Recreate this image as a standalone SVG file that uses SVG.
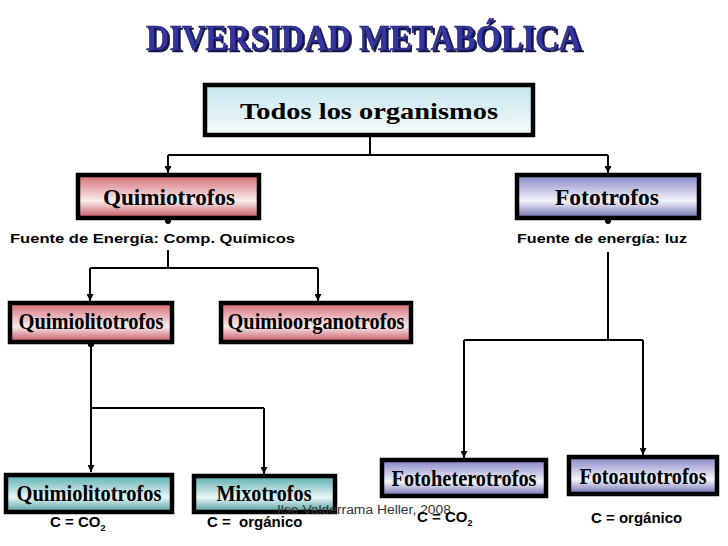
<svg xmlns="http://www.w3.org/2000/svg" width="728" height="546" viewBox="0 0 728 546">
<defs>
  <linearGradient id="gPink" x1="0" y1="0" x2="0" y2="1">
    <stop offset="0" stop-color="#d46a74"/>
    <stop offset="0.6" stop-color="#fbecec"/>
    <stop offset="1" stop-color="#c4535e"/>
  </linearGradient>
  <linearGradient id="gBlue" x1="0" y1="0" x2="0" y2="1">
    <stop offset="0" stop-color="#8484c6"/>
    <stop offset="0.6" stop-color="#f5f5fc"/>
    <stop offset="1" stop-color="#6c6cae"/>
  </linearGradient>
  <linearGradient id="gTeal" x1="0" y1="0" x2="0" y2="1">
    <stop offset="0" stop-color="#5aacae"/>
    <stop offset="0.6" stop-color="#e9f6f6"/>
    <stop offset="1" stop-color="#4f9ea0"/>
  </linearGradient>
  <linearGradient id="gTodos" x1="0" y1="0" x2="0" y2="1">
    <stop offset="0" stop-color="#c6e5ec"/>
    <stop offset="1" stop-color="#f6fbfc"/>
  </linearGradient>
  <filter id="shadow" x="-5%" y="-20%" width="110%" height="150%">
    <feOffset in="SourceAlpha" dx="2" dy="2" result="off"/>
    <feFlood flood-color="#15154a"/>
    <feComposite in2="off" operator="in" result="sh"/>
    <feMerge><feMergeNode in="sh"/><feMergeNode in="SourceGraphic"/></feMerge>
  </filter>
  <marker id="arr" viewBox="0 0 10 10" refX="10" refY="5" markerWidth="7" markerHeight="7" orient="auto" markerUnits="userSpaceOnUse">
    <path d="M0,0 L10,5 L0,10 z" fill="#000"/>
  </marker>
  <style>
    .box { stroke: #000; stroke-width: 4.5; }
    .lbl { font-family: "Liberation Serif", "Times New Roman", serif; font-weight: bold; font-size: 23px; fill: #000; text-anchor: middle; }
    .sans { font-family: "Liberation Sans", Arial, sans-serif; font-weight: bold; font-size: 13.5px; fill: #000; }
    .c { font-family: "Liberation Sans", Arial, sans-serif; font-weight: bold; font-size: 15px; fill: #000; }
    .line { stroke: #000; stroke-width: 2; fill: none; }
    .wm { font-family: "Liberation Sans", Arial, sans-serif; font-size: 12.5px; fill: #333; }
  </style>
</defs>
<rect width="728" height="546" fill="#fff"/>

<g id="title">
  <text x="364" y="50" font-family="Liberation Serif, Times New Roman, serif" font-weight="bold" font-size="35" text-anchor="middle" textLength="436" lengthAdjust="spacingAndGlyphs" fill="#3535a2" stroke="#1a1a60" stroke-width="0.6" filter="url(#shadow)">DIVERSIDAD METABÓLICA</text>
</g>

<g id="connectors">
  <path class="line" d="M370,135 V155 M168,155 H608"/>
  <path class="line" d="M168,155 V173" marker-end="url(#arr)"/>
  <path class="line" d="M608,155 V173" marker-end="url(#arr)"/>
  <circle cx="168" cy="221" r="3"/>
  <circle cx="608" cy="221" r="3"/>
  <path class="line" d="M168,250 V268 M90,268 H318"/>
  <path class="line" d="M90,268 V301" marker-end="url(#arr)"/>
  <path class="line" d="M318,268 V301" marker-end="url(#arr)"/>
  <path class="line" d="M608,252 V340 M464,340 H643"/>
  <path class="line" d="M464,340 V458" marker-end="url(#arr)"/>
  <path class="line" d="M643,340 V455" marker-end="url(#arr)"/>
  <circle cx="91" cy="344" r="3.2"/>
  <path class="line" d="M91,344 V472" marker-end="url(#arr)"/>
  <path class="line" d="M91,408 H264"/>
  <path class="line" d="M264,408 V474" marker-end="url(#arr)"/>
</g>

<g id="todos">
  <rect class="box" x="205" y="85" width="328" height="50" fill="url(#gTodos)"/>
  <text class="lbl" x="369" y="119" font-size="26" textLength="258" lengthAdjust="spacingAndGlyphs">Todos los organismos</text>
</g>

<g id="quimiotrofos">
  <rect class="box" x="78" y="175" width="181" height="43" fill="url(#gPink)"/>
  <text class="lbl" x="169" y="205" font-size="26" textLength="132" lengthAdjust="spacingAndGlyphs">Quimiotrofos</text>
</g>
<text class="sans" x="10" y="243" textLength="285" lengthAdjust="spacingAndGlyphs">Fuente de Energía: Comp. Químicos</text>

<g id="fototrofos">
  <rect class="box" x="517" y="175" width="182" height="43" fill="url(#gBlue)"/>
  <text class="lbl" x="607" y="205" font-size="26" textLength="104" lengthAdjust="spacingAndGlyphs">Fototrofos</text>
</g>
<text class="sans" x="517" y="243" textLength="170" lengthAdjust="spacingAndGlyphs">Fuente de energía: luz</text>

<g id="quimiolitotrofos1">
  <rect class="box" x="10" y="303" width="162" height="39" fill="url(#gPink)"/>
  <text class="lbl" x="91" y="329" textLength="145" lengthAdjust="spacingAndGlyphs">Quimiolitotrofos</text>
</g>

<g id="quimioorganotrofos">
  <rect class="box" x="221" y="303" width="190" height="39" fill="url(#gPink)"/>
  <text class="lbl" x="316" y="329" textLength="177" lengthAdjust="spacingAndGlyphs">Quimioorganotrofos</text>
</g>

<g id="quimiolitotrofos2">
  <rect class="box" x="6" y="475" width="166" height="37" fill="url(#gTeal)"/>
  <text class="lbl" x="89" y="501" textLength="145" lengthAdjust="spacingAndGlyphs">Quimiolitotrofos</text>
</g>

<g id="mixotrofos">
  <rect class="box" x="194" y="476" width="141" height="36" fill="url(#gTeal)"/>
  <text class="lbl" x="264" y="501" textLength="95" lengthAdjust="spacingAndGlyphs">Mixotrofos</text>
</g>

<g id="fotoheterotrofos">
  <rect class="box" x="382" y="460" width="164" height="36" fill="url(#gBlue)"/>
  <text class="lbl" x="464" y="486" font-size="21" textLength="145" lengthAdjust="spacingAndGlyphs">Fotoheterotrofos</text>
</g>

<g id="fotoautotrofos">
  <rect class="box" x="569" y="457" width="148" height="37" fill="url(#gBlue)"/>
  <text class="lbl" x="643" y="484" font-size="21" textLength="127" lengthAdjust="spacingAndGlyphs">Fotoautotrofos</text>
</g>

<text class="wm" x="277" y="514" textLength="174" lengthAdjust="spacingAndGlyphs">Ilse Valderrama Heller, 2008</text>

<text class="c" x="50" y="527">C = CO<tspan font-size="9" dy="4">2</tspan></text>
<text class="c" x="207" y="527" xml:space="preserve">C =  orgánico</text>
<text class="c" x="417" y="522">C = CO<tspan font-size="9" dy="4">2</tspan></text>
<text class="c" x="591" y="523">C = orgánico</text>
</svg>
